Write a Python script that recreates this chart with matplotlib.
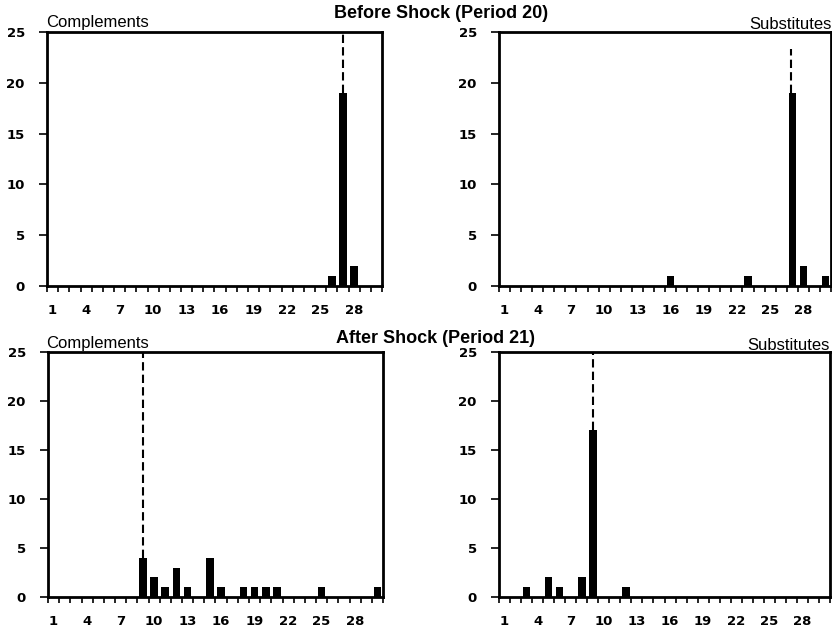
import matplotlib
matplotlib.use("Agg")
import matplotlib.pyplot as plt
import numpy as np

plt.rcParams['font.family'] = ['Liberation Sans', 'DejaVu Sans']

# categories 1..30 along the x axis
cats = list(range(1, 31))
tick_labels = ['1', '4', '7', '10', '13', '16', '19', '22', '25', '28']

# before shock (period 20)
comp_before_x = [26, 27, 28]
comp_before_y = [1, 19, 2]
subs_before_x = [16, 23, 27, 28, 30]
subs_before_y = [1, 1, 19, 2, 1]

# after shock (period 21)
comp_after_x = [9, 10, 11, 12, 13, 15, 16, 18, 19, 20, 21, 25, 30]
comp_after_y = [4, 2, 1, 3, 1, 4, 1, 1, 1, 1, 1, 1, 1]
subs_after_x = [3, 5, 6, 8, 9, 12]
subs_after_y = [1, 2, 1, 2, 17, 1]

# dashed marker: position, from, to
comp_before_dash = (27, 19, 25)
subs_before_dash = (26.9, 19, 23.3)
comp_after_dash = (9, 4, 25)
subs_after_dash = (9, 17, 25)

W, H = 832, 629
fig = plt.figure(figsize=(W / 100, H / 100), dpi=100)


def panel(rect, xs, ys, dash):
    ax = fig.add_axes(rect)
    counts = np.zeros(len(cats))
    for x, y in zip(xs, ys):
        counts[x - 1] = y
    ax.bar(cats, counts, width=0.68, color='black')
    ax.plot([dash[0], dash[0]], [dash[1], dash[2]], color='black',
            lw=1.5, ls=(0, (4, 2)))
    ax.set_xlim(0.5, 30.5)
    ax.set_ylim(0, 25)
    ax.set_yticks([0, 5, 10, 15, 20, 25])
    ax.set_xticks(np.arange(0.5, 31, 1))
    ax.set_xticklabels([])
    ax.set_xticks(cats[::3], minor=True)
    ax.set_xticklabels(tick_labels, minor=True)
    ax.tick_params(axis='x', which='major', direction='out', length=4, width=1.2)
    ax.tick_params(axis='x', which='minor', length=0, pad=13)
    ax.tick_params(axis='y', direction='out', length=6, width=1.2, pad=10)
    for lab in ax.get_xticklabels(minor=True) + ax.get_yticklabels():
        lab.set_fontweight('bold')
        lab.set_fontsize(9.5)
        lab.set_family('DejaVu Sans')
    for sp in ax.spines.values():
        sp.set_linewidth(2)
    return ax


top_b = (629 - 286) / H
top_h = 254 / H
bot_b = (629 - 597) / H
bot_h = 245 / H

ax1 = panel([47 / W, top_b, 335 / W, top_h], comp_before_x, comp_before_y, comp_before_dash)
ax2 = panel([499 / W, top_b, 332 / W, top_h], subs_before_x, subs_before_y, subs_before_dash)
ax3 = panel([48 / W, bot_b, 335 / W, bot_h], comp_after_x, comp_after_y, comp_after_dash)
ax4 = panel([499 / W, bot_b, 331 / W, bot_h], subs_after_x, subs_after_y, subs_after_dash)

fig.text(46 / W, 1 - 27 / H, 'Complements', fontsize=12, va='baseline', ha='left')
fig.text(832 / W, 1 - 29 / H, 'Substitutes', fontsize=12, va='baseline', ha='right')
fig.text(46 / W, 1 - 348 / H, 'Complements', fontsize=12, va='baseline', ha='left')
fig.text(830 / W, 1 - 350 / H, 'Substitutes', fontsize=12, va='baseline', ha='right')

fig.text(441 / W, 1 - 18 / H, 'Before Shock (Period 20)', fontsize=13,
         fontweight='bold', ha='center', va='baseline')
fig.text(435 / W, 1 - 343 / H, 'After Shock (Period 21)', fontsize=13,
         fontweight='bold', ha='center', va='baseline')

fig.savefig('out.png', dpi=100)
